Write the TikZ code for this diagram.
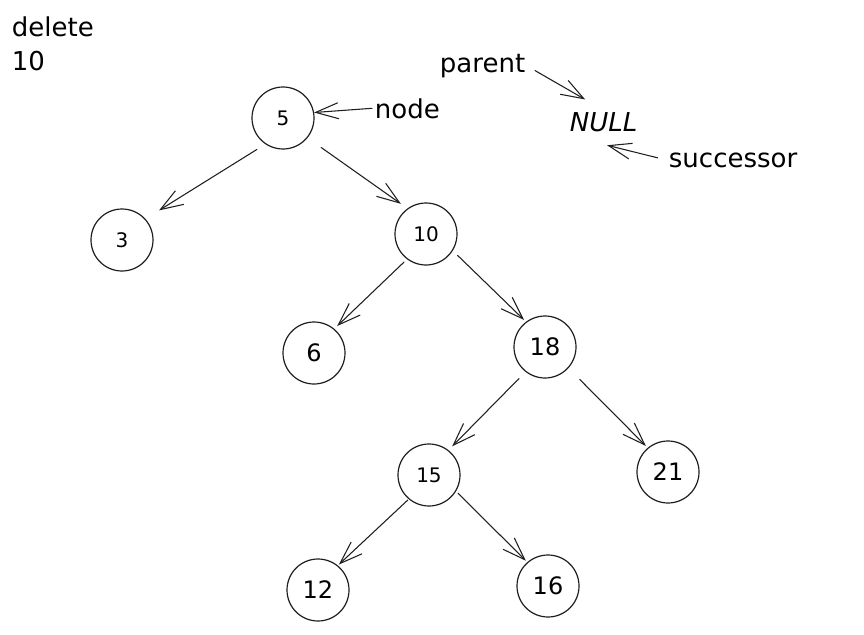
\documentclass[tikz,border=0pt]{standalone}
\usepackage{fontspec}
\setmainfont{DejaVu Sans}
\usetikzlibrary{arrows.meta}
\begin{document}
\begin{tikzpicture}[x=0.75pt,y=-0.75pt,line join=round,line cap=round,
	keynode/.style={circle,draw=black!88,line width=0.9pt,minimum size=46.5pt,inner sep=0pt},
	smalldigit/.style={font=\fontsize{15}{17}\selectfont},
	bigdigit/.style={font=\fontsize{18}{20}\selectfont},
	tag/.style={font=\fontsize{19.5}{25}\selectfont,inner sep=2pt,anchor=base west},
	link/.style={draw=black!88,line width=0.8pt,-{Straight Barb[length=17pt,width=12pt]},shorten <=3pt,shorten >=3pt}]
	\useasboundingbox (0,0) rectangle (864,635);
	% tree
	\node[keynode,smalldigit] (n5) at (283,118) {5};
	\node[keynode,smalldigit] (n3) at (122,240) {3};
	\node[keynode,smalldigit] (n10) at (426,234) {10};
	\node[keynode,bigdigit] (n6) at (314,353) {6};
	\node[keynode,bigdigit] (n18) at (545,347) {18};
	\node[keynode,smalldigit] (n15) at (429,475) {15};
	\node[keynode,bigdigit] (n21) at (668,472) {21};
	\node[keynode,bigdigit] (n12) at (318,590) {12};
	\node[keynode,bigdigit] (n16) at (548,586) {16};
	\draw[link,shorten <=7.5pt,shorten >=12pt] (n5.236) -- (n3.42);
	\draw[link,shorten <=12.5pt,shorten >=6pt] (n5.321) -- (n10.126);
	\draw[link] (n10.233) -- (n6.50);
	\draw[link,shorten <=5pt,shorten >=2pt] (n10.328) -- (n18.127);
	\draw[link,shorten <=7pt,shorten >=4pt] (n18.232) -- (n15.52);
	\draw[link,shorten <=12pt,shorten >=2pt] (n18.318) -- (n21.130);
	\draw[link,shorten <=1pt,shorten >=1pt] (n15.230) -- (n12.51);
	\draw[link,shorten <=2pt,shorten >=1.5pt] (n15.329) -- (n16.131);
	% pointers
	\node[tag,anchor=north west,align=left] (todo) at (9,14) {delete\\10};
	\node[tag] (ptrnode) at (372,118) {node};
	\node[tag] (ptrparent) at (437,73) {parent};
	\node[tag,font=\fontsize{19.5}{25}\selectfont\itshape] (null) at (567,132) {NULL};
	\node[tag] (ptrsucc) at (666,167) {successor};
	\draw[link,shorten <=0pt,shorten >=0pt] (ptrnode.west) -- (n5.10);
	\draw[link,shorten <=6pt,shorten >=16pt] (ptrparent.east) -- (null.north);
	\draw[link,shorten <=6.5pt,shorten >=31pt] (ptrsucc.west) -- (null.south west);
\end{tikzpicture}
\end{document}
